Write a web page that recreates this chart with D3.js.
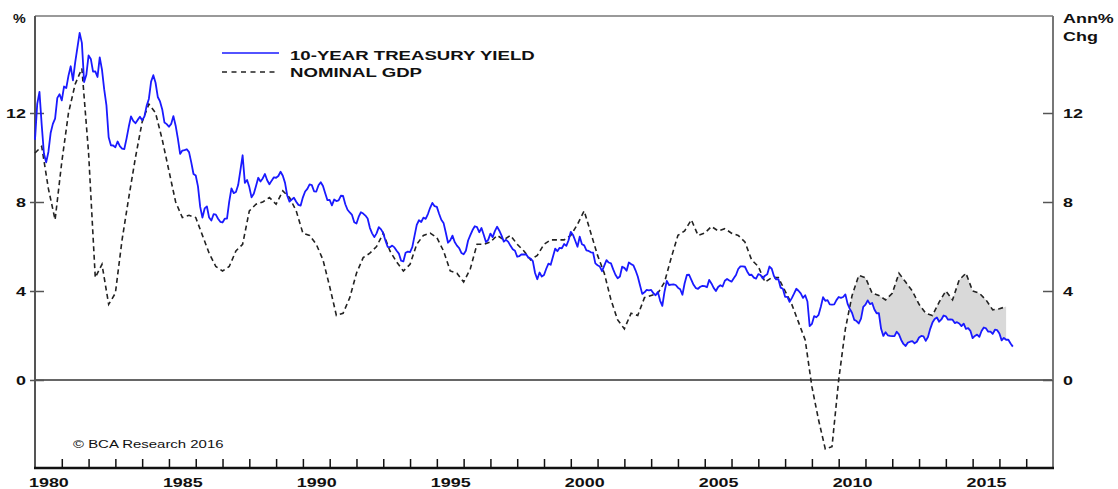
<!DOCTYPE html>
<html>
<head>
<meta charset="utf-8">
<script src="https://cdn.jsdelivr.net/npm/d3@7"></script>
<style>
  html, body { margin: 0; padding: 0; background: #fff; }
  svg { display: block; }
  text { font-family: "Liberation Sans", Arial, sans-serif; }
</style>
</head>
<body>
<script>
// ---------------- DATA ----------------
// 10-year Treasury yield (%), monthly, starting Jan 1980
const yieldStart = 1980;
const yieldMonthly = [
  10.80,12.41,12.95,11.47,10.18,9.78,10.25,11.10,11.51,11.75,12.68,12.84,
  12.57,13.19,13.12,13.68,14.10,13.47,14.28,14.94,15.60,15.15,13.39,13.72,
  14.59,14.43,13.86,13.87,13.62,14.50,13.95,13.06,12.34,10.91,10.55,10.54,
  10.46,10.72,10.51,10.40,10.38,10.85,11.38,11.85,11.65,11.54,11.69,11.83,
  11.67,11.84,12.32,12.63,13.41,13.70,13.36,12.72,12.52,12.16,11.57,11.50,
  11.38,11.51,11.86,11.43,10.85,10.16,10.31,10.33,10.37,10.24,9.78,9.26,
  9.19,8.70,7.78,7.30,7.71,7.80,7.30,7.17,7.45,7.43,7.25,7.11,
  7.08,7.25,7.25,8.02,8.61,8.40,8.45,8.76,9.42,10.10,8.86,8.99,
  8.67,8.21,8.37,8.72,9.09,8.92,9.06,9.26,8.98,8.80,8.96,9.11,
  9.09,9.17,9.36,9.18,8.86,8.28,8.02,8.11,8.19,8.01,7.87,7.84,
  8.21,8.47,8.59,8.79,8.76,8.48,8.47,8.75,8.89,8.72,8.39,8.08,
  8.09,7.85,8.11,8.04,8.07,8.28,8.27,7.90,7.65,7.53,7.42,7.09,
  7.03,7.34,7.54,7.48,7.39,7.26,6.84,6.59,6.42,6.59,6.87,6.77,
  6.60,6.26,5.98,5.97,6.04,5.96,5.81,5.68,5.36,5.33,5.72,5.77,
  5.75,5.97,6.48,6.97,7.18,7.10,7.30,7.24,7.46,7.74,7.96,7.81,
  7.78,7.47,7.20,7.06,6.63,6.17,6.28,6.49,6.20,6.04,5.93,5.71,
  5.65,5.81,6.27,6.51,6.74,6.91,6.87,6.64,6.83,6.53,6.20,6.30,
  6.58,6.42,6.69,6.89,6.71,6.49,6.22,6.30,6.21,6.03,5.88,5.81,
  5.54,5.57,5.65,5.64,5.65,5.50,5.46,5.34,4.81,4.53,4.83,4.65,
  4.72,5.00,5.23,5.18,5.54,5.90,5.79,5.94,5.92,6.11,6.03,6.28,
  6.66,6.52,6.26,5.99,6.44,6.10,6.05,5.83,5.80,5.74,5.72,5.24,
  5.16,5.10,4.89,5.14,5.39,5.28,5.24,4.97,4.73,4.57,4.65,5.09,
  5.04,4.91,5.28,5.21,5.16,4.93,4.65,4.26,3.87,3.94,4.05,4.03,
  4.05,3.90,3.81,3.96,3.57,3.33,3.98,4.45,4.27,4.29,4.30,4.27,
  4.15,4.08,3.83,4.35,4.72,4.73,4.50,4.28,4.13,4.10,4.19,4.23,
  4.22,4.17,4.50,4.34,4.14,4.00,4.18,4.26,4.20,4.46,4.54,4.47,
  4.42,4.57,4.72,4.99,5.11,5.11,5.09,4.88,4.72,4.73,4.60,4.56,
  4.76,4.72,4.56,4.69,4.75,5.10,5.00,4.67,4.52,4.53,4.15,4.10,
  3.74,3.74,3.51,3.68,3.88,4.10,4.01,3.89,3.69,3.81,3.53,2.42,
  2.52,2.87,2.82,2.93,3.29,3.72,3.56,3.59,3.40,3.39,3.40,3.59,
  3.73,3.69,3.73,3.85,3.42,3.20,3.01,2.70,2.65,2.54,2.76,3.29,
  3.39,3.58,3.41,3.46,3.17,3.00,3.00,2.30,1.98,2.15,2.01,1.98,
  1.97,1.97,2.17,2.05,1.80,1.62,1.53,1.68,1.72,1.75,1.65,1.72,
  1.91,1.98,1.96,1.76,1.93,2.30,2.58,2.74,2.81,2.62,2.72,2.90,
  2.86,2.71,2.72,2.71,2.56,2.60,2.54,2.42,2.53,2.30,2.33,2.21,
  1.88,1.98,2.04,1.94,2.20,2.36,2.32,2.17,2.17,2.07,2.26,2.24,
  2.09,1.78,1.89,1.81,1.81,1.64,1.50
];

// Nominal GDP (annual % change), quarterly, starting Q1 1980
const gdpStart = 1980;
const gdpQuarterly = [
  10.2,10.5,8.6,7.2,
  9.8,12.0,13.3,14.0,
  10.2,4.6,5.2,3.4,
  3.9,6.3,8.2,10.0,
  11.6,12.4,12.0,10.8,
  9.4,8.0,7.3,7.4,
  7.3,6.5,5.7,5.1,
  4.9,5.1,5.8,6.1,
  7.6,7.9,8.0,8.2,
  7.9,8.5,8.2,7.6,
  6.6,6.5,6.1,5.4,
  4.2,2.9,3.0,3.7,
  4.8,5.5,5.7,6.0,
  6.6,5.8,5.3,4.9,
  5.2,6.1,6.5,6.6,
  6.4,5.8,4.9,4.8,
  4.4,5.0,6.1,6.1,
  6.2,6.5,6.3,6.5,
  6.1,5.8,5.4,5.6,
  6.1,6.3,6.3,6.3,
  6.5,7.0,7.6,6.6,
  5.6,4.8,3.6,2.7,
  2.3,3.0,2.9,3.7,
  3.8,3.9,4.4,5.5,
  6.5,6.7,7.2,6.5,
  6.6,6.9,6.7,6.8,
  6.6,6.5,6.2,5.4,
  5.1,4.4,4.6,4.6,
  4.0,3.4,2.6,1.8,
  -0.3,-1.8,-3.1,-3.0,
  0.0,2.3,3.8,4.7,
  4.6,3.9,3.8,3.6,
  3.9,4.8,4.4,4.0,
  3.4,3.0,2.9,3.5,
  4.0,3.6,4.5,4.8,
  4.0,3.9,3.6,3.15,
  3.2,3.3
];

const yTicks = [0, 4, 8, 12];
const xLabelYears = [1980, 1985, 1990, 1995, 2000, 2005, 2010, 2015];
const xTickYears = d3.range(1981, 2018);
const shadeFrom = 2010;
const legendLabels = ["10-YEAR TREASURY YIELD", "NOMINAL GDP"];

// ---------------- CHART ----------------
const W = 1118, H = 489;
const L = 35, R = 1053, T = 16, B = 468;
const SX = 1.38; // horizontal text stretch seen in the reference

const svg = d3.select("body").append("svg").attr("width", W).attr("height", H);

const x = d3.scaleLinear().domain([1980, 2018]).range([L, R]);
const y = d3.scaleLinear().domain([0, 12]).range([380, 113]);

const yieldData = yieldMonthly.map((v, i) => ({ t: yieldStart + i / 12, v }));
const gdpData = gdpQuarterly.map((v, i) => ({ t: gdpStart + i / 4, v }));

// GDP value at time t (linear along the drawn line)
function gdpAt(t) {
  const i = Math.floor((t - gdpStart) * 4);
  if (i < 0) return gdpData[0].v;
  if (i >= gdpData.length - 1) return gdpData[gdpData.length - 1].v;
  const a = gdpData[i], b = gdpData[i + 1];
  return a.v + (b.v - a.v) * (t - a.t) / (b.t - a.t);
}

// Shaded gap where nominal GDP exceeds the yield (from 2010 on)
const gdpEnd = gdpData[gdpData.length - 1].t;
const shadeData = yieldData.filter(d => d.t >= shadeFrom && d.t <= gdpEnd + 1e-9)
  .map(d => ({ t: d.t, lo: d.v, hi: Math.max(d.v, gdpAt(d.t)) }));
{
  const last = yieldData.find(d => d.t > gdpEnd);
  const prev = yieldData.filter(d => d.t <= gdpEnd).pop();
  const f = (gdpEnd - prev.t) / (last.t - prev.t);
  const yv = prev.v + (last.v - prev.v) * f;
  shadeData.push({ t: gdpEnd, lo: yv, hi: Math.max(yv, gdpAt(gdpEnd)) });
}

svg.append("path")
  .datum(shadeData)
  .attr("fill", "#d9d9d9")
  .attr("d", d3.area().x(d => x(d.t)).y0(d => y(d.lo)).y1(d => y(d.hi)));

// zero line
svg.append("line")
  .attr("x1", L).attr("x2", R).attr("y1", y(0)).attr("y2", y(0))
  .attr("stroke", "#333").attr("stroke-width", 1.5);

// frame
svg.append("line").attr("x1", L).attr("x2", R).attr("y1", T).attr("y2", T)
  .attr("stroke", "#777").attr("stroke-width", 1.5);
svg.append("line").attr("x1", R).attr("x2", R).attr("y1", T).attr("y2", B)
  .attr("stroke", "#777").attr("stroke-width", 2);
svg.append("line").attr("x1", L).attr("x2", L).attr("y1", T).attr("y2", B)
  .attr("stroke", "#555").attr("stroke-width", 2);

// left axis
const gl = svg.append("g").attr("transform", `translate(${L + 9},0)`)
  .call(d3.axisLeft(y).tickValues(yTicks).tickSize(14).tickPadding(2).tickFormat(d3.format("d")));
gl.select(".domain").remove();
gl.selectAll("line").attr("stroke", "#555").attr("stroke-width", 1.5);
gl.selectAll("text")
  .attr("x", -18 / SX).attr("transform", `scale(${SX},1)`)
  .style("font-size", "13px").style("font-weight", "bold").attr("fill", "#111");

// right axis
const gr = svg.append("g").attr("transform", `translate(${R},0)`)
  .call(d3.axisRight(y).tickValues(yTicks).tickSize(-10).tickPadding(10).tickFormat(d3.format("d")));
gr.select(".domain").remove();
gr.selectAll("line").attr("stroke", "#555").attr("stroke-width", 1.5);
gr.selectAll("text")
  .attr("x", 10 / SX).attr("transform", `scale(${SX},1)`)
  .style("font-size", "13px").style("font-weight", "bold").attr("fill", "#111");

// bottom axis ticks
const gb = svg.append("g").attr("transform", `translate(0,${B})`)
  .call(d3.axisBottom(x).tickValues(xTickYears).tickSize(-9).tickFormat(""));
gb.select(".domain").remove();
gb.selectAll("line").attr("stroke", "#111").attr("stroke-width", 1.5);
svg.append("line").attr("x1", L - 1).attr("x2", R + 1).attr("y1", B).attr("y2", B)
  .attr("stroke", "#111").attr("stroke-width", 2.5);

// bottom axis labels (centred on the year)
const gbl = svg.append("g").attr("transform", `translate(0,${B})`)
  .call(d3.axisBottom(x).tickValues(xLabelYears.map(v => v + 0.5)).tickSize(0).tickPadding(10)
    .tickFormat(d => String(Math.floor(d))));
gbl.select(".domain").remove();
gbl.selectAll("text").attr("transform", `scale(${SX},1)`)
  .style("font-size", "13px").style("font-weight", "bold").attr("fill", "#111");

// lines
svg.append("path").datum(gdpData)
  .attr("fill", "none").attr("stroke", "#222").attr("stroke-width", 1.6)
  .attr("stroke-dasharray", "5,3.5")
  .attr("d", d3.line().x(d => x(d.t)).y(d => y(d.v)));

svg.append("path").datum(yieldData)
  .attr("fill", "none").attr("stroke", "#1a1aff").attr("stroke-width", 1.8)
  .attr("stroke-linejoin", "round")
  .attr("d", d3.line().x(d => x(d.t)).y(d => y(d.v)));

// helper for stretched text
function label(txt, px, py, size, weight, sx, anchor) {
  svg.append("g").attr("transform", `translate(${px},${py}) scale(${sx},1)`)
    .append("text").text(txt)
    .attr("text-anchor", anchor || "start")
    .style("font-size", size + "px").style("font-weight", weight)
    .attr("fill", "#111");
}

// unit labels
label("%", 13, 23, 13, "bold", 1.1);
label("Ann%", 1063, 23, 13, "bold", SX);
label("Chg", 1063, 41, 13, "bold", SX);

// legend
svg.append("line").attr("x1", 222).attr("x2", 279).attr("y1", 53).attr("y2", 53)
  .attr("stroke", "#1a1aff").attr("stroke-width", 1.7);
svg.append("line").attr("x1", 222).attr("x2", 279).attr("y1", 72).attr("y2", 72)
  .attr("stroke", "#222").attr("stroke-width", 1.6).attr("stroke-dasharray", "5,4.5");
label(legendLabels[0], 290, 60, 13.5, "bold", SX);
label(legendLabels[1], 290, 77, 13.5, "bold", SX);

// copyright
label("\u00A9 BCA Research 2016", 73, 448, 11.5, "normal", 1.3);
</script>
</body>
</html>
